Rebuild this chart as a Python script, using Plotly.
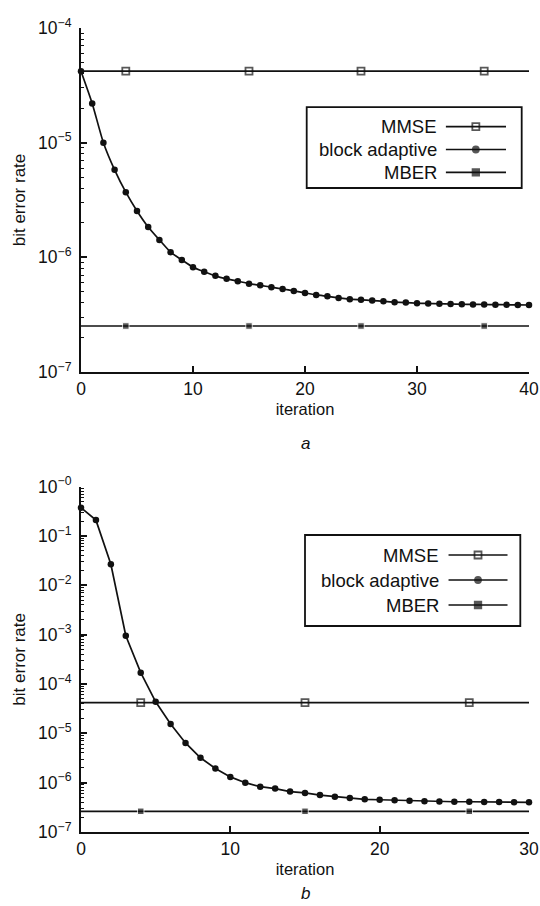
import plotly.graph_objects as go

# ---------------- data ----------------
# panel a
iter_a = list(range(0, 41))
block_a = [4.2e-5, 2.2e-5, 1.0e-5, 5.8e-6, 3.7e-6, 2.54e-6, 1.84e-6, 1.42e-6, 1.11e-6, 9.5e-7,
           8.2e-7, 7.5e-7, 6.9e-7, 6.5e-7, 6.2e-7, 5.9e-7, 5.7e-7, 5.5e-7, 5.3e-7, 5.1e-7,
           4.9e-7, 4.7e-7, 4.57e-7, 4.43e-7, 4.32e-7, 4.26e-7, 4.2e-7, 4.14e-7, 4.07e-7, 4.03e-7,
           3.98e-7, 3.96e-7, 3.94e-7, 3.92e-7, 3.9e-7, 3.89e-7, 3.88e-7, 3.87e-7, 3.86e-7, 3.85e-7,
           3.84e-7]
ref_x_a = [0, 4, 15, 25, 36, 40]
mmse_a = [4.2e-5] * len(ref_x_a)
mber_a = [2.52e-7] * len(ref_x_a)

# panel b
iter_b = list(range(0, 31))
block_b = [0.375, 0.21, 0.0267, 9.5e-4, 1.7e-4, 4.35e-5, 1.55e-5, 6.4e-6, 3.2e-6, 1.94e-6,
           1.31e-6, 1.0e-6, 8.3e-7, 7.6e-7, 6.6e-7, 6.2e-7, 5.6e-7, 5.2e-7, 4.9e-7, 4.6e-7,
           4.5e-7, 4.4e-7, 4.3e-7, 4.2e-7, 4.15e-7, 4.1e-7, 4.1e-7, 4.05e-7, 4.05e-7, 4.0e-7,
           4.0e-7]
ref_x_b = [0, 4, 15, 26, 30]
mmse_b = [4.2e-5] * len(ref_x_b)
mber_b = [2.63e-7] * len(ref_x_b)

series_names = ["MMSE", "block adaptive", "MBER"]
x_title = "iteration"
y_title = "bit error rate"
panel_labels = ["a", "b"]

ytick_vals_a = [1e-7, 1e-6, 1e-5, 1e-4]
ytick_text_a = ["10<sup>\u22127</sup>", "10<sup>\u22126</sup>", "10<sup>\u22125</sup>", "10<sup>\u22124</sup>"]
ytick_vals_b = [1e-7, 1e-6, 1e-5, 1e-4, 1e-3, 1e-2, 1e-1, 1]
ytick_text_b = ["10<sup>\u22127</sup>", "10<sup>\u22126</sup>", "10<sup>\u22125</sup>", "10<sup>\u22124</sup>",
                "10<sup>\u22123</sup>", "10<sup>\u22122</sup>", "10<sup>\u22121</sup>", "10<sup>\u22120</sup>"]
xtick_vals_a = [0, 10, 20, 30, 40]
xtick_vals_b = [0, 10, 20, 30]

# ---------------- styling ----------------
FONT = "Liberation Sans, Arial, Helvetica, sans-serif"
BLACK = "#111111"
LW = 1.7


def end_sizes(n, s):
    return [0] + [s] * (n - 2) + [0]


fig = go.Figure()

# panel a traces
fig.add_trace(go.Scatter(x=ref_x_a, y=mmse_a, mode="lines+markers", xaxis="x", yaxis="y",
                         line=dict(color=BLACK, width=LW),
                         marker=dict(symbol="square-open", size=end_sizes(len(ref_x_a), 7),
                                     color=BLACK, line=dict(width=1.8, color=BLACK)),
                         showlegend=False, cliponaxis=False))
fig.add_trace(go.Scatter(x=iter_a, y=block_a, mode="lines+markers", xaxis="x", yaxis="y",
                         line=dict(color=BLACK, width=LW, shape="spline", smoothing=0.6),
                         marker=dict(symbol="circle", size=6.5, color=BLACK),
                         showlegend=False, cliponaxis=False))
fig.add_trace(go.Scatter(x=ref_x_a, y=mber_a, mode="lines+markers", xaxis="x", yaxis="y",
                         line=dict(color=BLACK, width=LW),
                         marker=dict(symbol="square", size=end_sizes(len(ref_x_a), 6.5), color=BLACK),
                         showlegend=False, cliponaxis=False))

# panel b traces
fig.add_trace(go.Scatter(x=ref_x_b, y=mmse_b, mode="lines+markers", xaxis="x2", yaxis="y2",
                         line=dict(color=BLACK, width=LW),
                         marker=dict(symbol="square-open", size=end_sizes(len(ref_x_b), 7),
                                     color=BLACK, line=dict(width=1.8, color=BLACK)),
                         showlegend=False, cliponaxis=False))
fig.add_trace(go.Scatter(x=iter_b, y=block_b, mode="lines+markers", xaxis="x2", yaxis="y2",
                         line=dict(color=BLACK, width=LW),
                         marker=dict(symbol="circle", size=6.5, color=BLACK),
                         showlegend=False, cliponaxis=False))
fig.add_trace(go.Scatter(x=ref_x_b, y=mber_b, mode="lines+markers", xaxis="x2", yaxis="y2",
                         line=dict(color=BLACK, width=LW),
                         marker=dict(symbol="square", size=end_sizes(len(ref_x_b), 6.5), color=BLACK),
                         showlegend=False, cliponaxis=False))

# custom legends (text left of sample, as in the reference)
legend_syms = [("square-open", 7), ("circle", 6), ("square", 6.5)]
for xa, ya in [("x3", "y3"), ("x4", "y4")]:
    for i, (sym, sz) in enumerate(legend_syms):
        row = 2 - i
        fig.add_trace(go.Scatter(x=[0, 0.5, 1], y=[row] * 3, mode="lines+markers",
                                 xaxis=xa, yaxis=ya,
                                 line=dict(color=BLACK, width=LW),
                                 marker=dict(symbol=sym, size=[0, sz, 0], color=BLACK,
                                             line=dict(width=1.8, color=BLACK)),
                                 showlegend=False, hoverinfo="skip", cliponaxis=False))
        fig.add_annotation(x=0, y=row, xref=xa, yref=ya, text=series_names[i],
                           showarrow=False, xanchor="right", yanchor="middle", xshift=-7,
                           font=dict(family=FONT, size=18.5, color=BLACK))

axis_common = dict(showline=True, linecolor=BLACK, linewidth=2, mirror=False,
                   showgrid=False, zeroline=False, ticks="inside", tickcolor=BLACK,
                   tickwidth=1.5, ticklen=6, automargin=False,
                   tickfont=dict(family=FONT, size=17.5, color=BLACK))

dom_a = [0.5721, 1.0]
dom_b = [0.0, 0.4295]

fig.update_layout(
    width=540, height=906,
    margin=dict(l=81, r=11, t=28, b=74, autoexpand=False),
    paper_bgcolor="white", plot_bgcolor="white",
    font=dict(family=FONT, color=BLACK),
    xaxis=dict(domain=[0, 1], anchor="y", range=[0, 40], tickvals=xtick_vals_a,
               title=dict(text=x_title, font=dict(family=FONT, size=16.5, color=BLACK), standoff=5),
               **axis_common),
    yaxis=dict(domain=dom_a, anchor="x", type="log", range=[-7, -4],
               tickvals=ytick_vals_a, ticktext=ytick_text_a, ticklabelstandoff=4,
               minor=dict(ticks="inside", ticklen=3, tickcolor=BLACK, tickwidth=1.2, dtick="D1", showgrid=False),
               title=dict(text=y_title, font=dict(family=FONT, size=17, color=BLACK), standoff=8),
               **axis_common),
    xaxis2=dict(domain=[0, 1], anchor="y2", range=[0, 30], tickvals=xtick_vals_b,
                title=dict(text=x_title, font=dict(family=FONT, size=16.5, color=BLACK), standoff=5),
                **axis_common),
    yaxis2=dict(domain=dom_b, anchor="x2", type="log", range=[-7, 0],
                tickvals=ytick_vals_b, ticktext=ytick_text_b, ticklabelstandoff=4,
                minor=dict(ticks="inside", ticklen=3, tickcolor=BLACK, tickwidth=1.2, dtick="D1", showgrid=False),
                title=dict(text=y_title, font=dict(family=FONT, size=17, color=BLACK), standoff=8),
                **axis_common),
    xaxis3=dict(domain=[0.814, 0.9487], anchor="y3", range=[0, 1], visible=False, fixedrange=True),
    yaxis3=dict(domain=[(832 - 183.8) / 804, (832 - 115.2) / 804], anchor="x3", range=[-0.5, 2.5],
                visible=False, fixedrange=True),
    xaxis4=dict(domain=[0.8199, 0.9525], anchor="y4", range=[0, 1], visible=False, fixedrange=True),
    yaxis4=dict(domain=[(832 - 617.5) / 804, (832 - 542.5) / 804], anchor="x4", range=[-0.5, 2.5],
                visible=False, fixedrange=True),
)

# legend boxes
fig.add_shape(type="rect", xref="paper", yref="paper", x0=0.5038, x1=0.9837, y0=0.801, y1=0.9017,
              line=dict(color=BLACK, width=1.8), fillcolor="rgba(0,0,0,0)", layer="below")
fig.add_shape(type="rect", xref="paper", yref="paper", x0=0.5, x1=0.9806, y0=0.2562, y1=0.3694,
              line=dict(color=BLACK, width=1.8), fillcolor="rgba(0,0,0,0)", layer="below")

# panel labels
fig.add_annotation(x=0.5, y=(832 - 443) / 804, xref="paper", yref="paper", text="<i>" + panel_labels[0] + "</i>",
                   showarrow=False, xanchor="center", yanchor="middle",
                   font=dict(family=FONT, size=17, color=BLACK))
fig.add_annotation(x=0.5, y=(832 - 905) / 804, xref="paper", yref="paper", text="<i>" + panel_labels[1] + "</i>",
                   showarrow=False, xanchor="center", yanchor="bottom",
                   font=dict(family=FONT, size=17, color=BLACK))

fig.write_html("out.html")
